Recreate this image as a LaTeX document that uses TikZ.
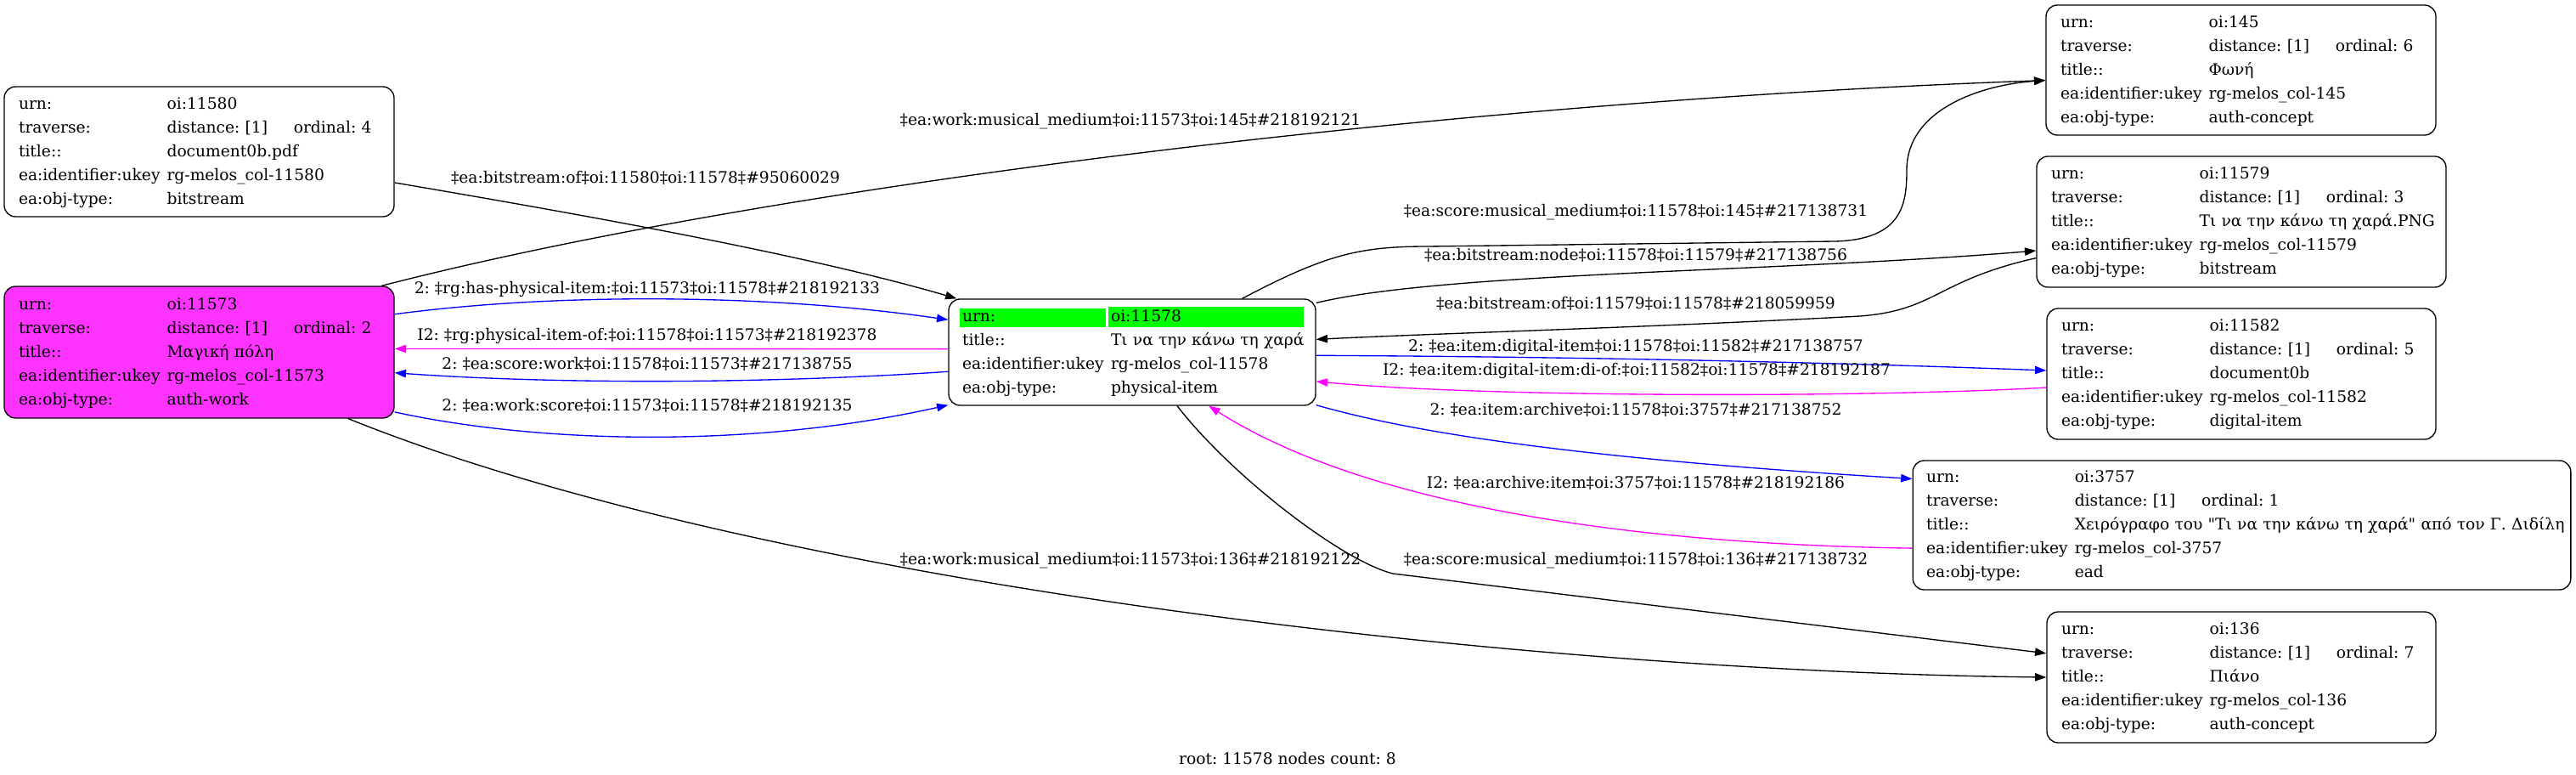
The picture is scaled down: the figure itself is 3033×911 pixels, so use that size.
\documentclass[tikz,border=0pt]{standalone}
\usepackage{fontspec}
\setmainfont{DejaVu Serif}[Ligatures=TeXOff]
\usepackage{tikz}
\usetikzlibrary{arrows.meta}
\frenchspacing
\definecolor{workfill}{HTML}{FF33FF}
\definecolor{urngreen}{HTML}{00FF00}
\definecolor{linkblue}{HTML}{0000FF}
\definecolor{linkmag}{HTML}{FF00FF}
\setlength{\fboxsep}{2.25pt}
\newcommand{\urnstrut}{\rule[-3pt]{0pt}{12.45pt}}
\newcommand{\objrows}[5]{\begin{tabular}{@{}l@{\hspace{6pt}}l@{}}
urn: & #1\\
traverse: & distance: [1]\hspace{23pt}ordinal: #2\\
title:: & #3\\
ea:identifier:ukey & #4\\
ea:obj-type: & #5
\end{tabular}}
\tikzset{
	objbox/.style={draw, rounded corners=10pt, line width=1pt, inner xsep=12.75pt, inner ysep=0pt, align=left, font=\fontsize{14}{21}\selectfont},
	link/.style={line width=1pt, -{Triangle[length=10pt,width=7pt]}},
	lbl/.style={inner sep=0pt, font=\fontsize{14}{17}\selectfont}
}

\begin{document}
\begin{tikzpicture}[x=0.75pt, y=-0.75pt]
	\useasboundingbox (0,0) rectangle (3033,911);
	% left column
	\node[objbox, text width=318.75pt, minimum height=114.75pt] (n11580) at (234.5,178.5) {\objrows{oi:11580}{4}{document0b.pdf}{rg-melos\_col-11580}{bitstream}};
	\node[objbox, fill=workfill, text width=318.75pt, minimum height=116.25pt] (n11573) at (234.5,414.5) {\objrows{oi:11573}{2}{Μαγική πόλη}{rg-melos\_col-11573}{auth-work}};
	% root
	\node[objbox, inner xsep=9.75pt, text width=304.5pt, minimum height=93.75pt] (n11578) at (1333,414.5) {\begin{tabular}{@{}l@{\hspace{2.25pt}}l@{}}
		\colorbox{urngreen}{\makebox[124.5pt][l]{\urnstrut urn:}} & \colorbox{urngreen}{\makebox[168pt][l]{\urnstrut oi:11578}}\\
		\hspace{2.25pt}title:: & \hspace{2.25pt}Τι να την κάνω τη χαρά\\
		\hspace{2.25pt}ea:identifier:ukey & \hspace{2.25pt}rg-melos\_col-11578\\
		\hspace{2.25pt}ea:obj-type: & \hspace{2.25pt}physical-item
		\end{tabular}};
	% right column
	\node[objbox, text width=318.75pt, minimum height=114.75pt] (n145) at (2638.5,82.5) {\objrows{oi:145}{6}{Φωνή}{rg-melos\_col-145}{auth-concept}};
	\node[objbox, text width=336pt, minimum height=115.5pt] (n11579) at (2639,261) {\objrows{oi:11579}{3}{Τι να την κάνω τη χαρά.PNG}{rg-melos\_col-11579}{bitstream}};
	\node[objbox, text width=318pt, minimum height=115.5pt] (n11582) at (2639,440) {\objrows{oi:11582}{5}{document0b}{rg-melos\_col-11582}{digital-item}};
	\node[objbox, inner xsep=12pt, text width=557pt, minimum height=114pt] (n3757) at (2639.5,618) {\objrows{oi:3757}{1}{Χειρόγραφο του "Τι να την κάνω τη χαρά" από τον Γ. Διδίλη}{rg-melos\_col-3757}{ead}};
	\node[objbox, text width=318pt, minimum height=115.5pt] (n136) at (2639,797) {\objrows{oi:136}{7}{Πιάνο}{rg-melos\_col-136}{auth-concept}};

	% links on the left
	\draw[link] (n11580.-9) .. controls (700,255) and (950,300) .. (n11578.163);
	\node[lbl] (l1) at (760,209) {‡ea:bitstream:of‡oi:11580‡oi:11578‡\#95060029};
	\draw[link] (n11573.20) .. controls (900,220) and (1700,120) .. (n145.183);
	\node[lbl] (l2) at (1331,143) {‡ea:work:musical\_medium‡oi:11573‡oi:145‡\#218192121};
	\draw[link, linkblue] (n11573.11) .. controls (650,345) and (900,345) .. (n11578.170);
	\node[lbl] (l3) at (762,340) {2: ‡rg:has-physical-item:‡oi:11573‡oi:11578‡\#218192133};
	\draw[link, linkmag] (n11578.179) -- (n11573.1);
	\node[lbl] (l4) at (762,395) {I2: ‡rg:physical-item-of:‡oi:11578‡oi:11573‡\#218192378};
	\draw[link, linkblue] (n11578.186) .. controls (900,452) and (650,452) .. (n11573.-6);
	\node[lbl] (l5) at (762,428) {2: ‡ea:score:work‡oi:11578‡oi:11573‡\#217138755};
	\draw[link, linkblue] (n11573.-17) .. controls (650,525) and (900,525) .. (n11578.196);
	\node[lbl] (l6) at (762,477) {2: ‡ea:work:score‡oi:11573‡oi:11578‡\#218192135};
	\draw[link] (n11573.-24) .. controls (900,690) and (1800,790) .. (n136.west);
	\node[lbl] (l7) at (1331,660) {‡ea:work:musical\_medium‡oi:11573‡oi:136‡\#218192122};

	% links on the right
	\draw[link] (n11578.26) .. controls (1560,300) and (1600,290) .. (1680,290) -- (2160,284) .. controls (2240,282) and (2245,240) .. (2245,200) .. controls (2245,130) and (2330,100) .. (n145.183);
	\node[lbl] (l8) at (1926,250) {‡ea:score:musical\_medium‡oi:11578‡oi:145‡\#217138731};
	\draw[link] (n11578.15) .. controls (1700,320) and (2100,320) .. (n11579.188);
	\node[lbl] (l9) at (1926,300) {‡ea:bitstream:node‡oi:11578‡oi:11579‡\#217138756};
	\draw[link] (n11579.190) .. controls (2280,330) and (2280,365) .. (2190,372) .. controls (1950,385) and (1700,392) .. (n11578.4);
	\node[lbl] (l10) at (1926,357) {‡ea:bitstream:of‡oi:11579‡oi:11578‡\#218059959};
	\draw[link, linkblue] (n11578.-1) .. controls (1900,420) and (2200,428) .. (n11582.179);
	\node[lbl] (l11) at (1926,408) {2: ‡ea:item:digital-item‡oi:11578‡oi:11582‡\#217138757};
	\draw[link, linkmag] (n11582.184) .. controls (2200,468) and (1750,468) .. (n11578.-9);
	\node[lbl] (l12) at (1927,436) {I2: ‡ea:item:digital-item:di-of:‡oi:11582‡oi:11578‡\#218192187};
	\draw[link, linkblue] (n11578.-16) .. controls (1700,520) and (1950,545) .. (n3757.172);
	\node[lbl] (l13) at (1926,482) {2: ‡ea:item:archive‡oi:11578‡oi:3757‡\#217138752};
	\draw[link, linkmag] (n3757.184) .. controls (1900,640) and (1600,590) .. (n11578.-35);
	\node[lbl] (l14) at (1926,568) {I2: ‡ea:archive:item‡oi:3757‡oi:11578‡\#218192186};
	\draw[link] (n11578.-50) .. controls (1450,560) and (1580,660) .. (1640,675) -- (n136.173);
	\node[lbl] (l15) at (1926,660) {‡ea:score:musical\_medium‡oi:11578‡oi:136‡\#217138732};

	\node[lbl] (root) at (1516,893) {root: 11578 nodes count: 8};
\end{tikzpicture}
\end{document}
